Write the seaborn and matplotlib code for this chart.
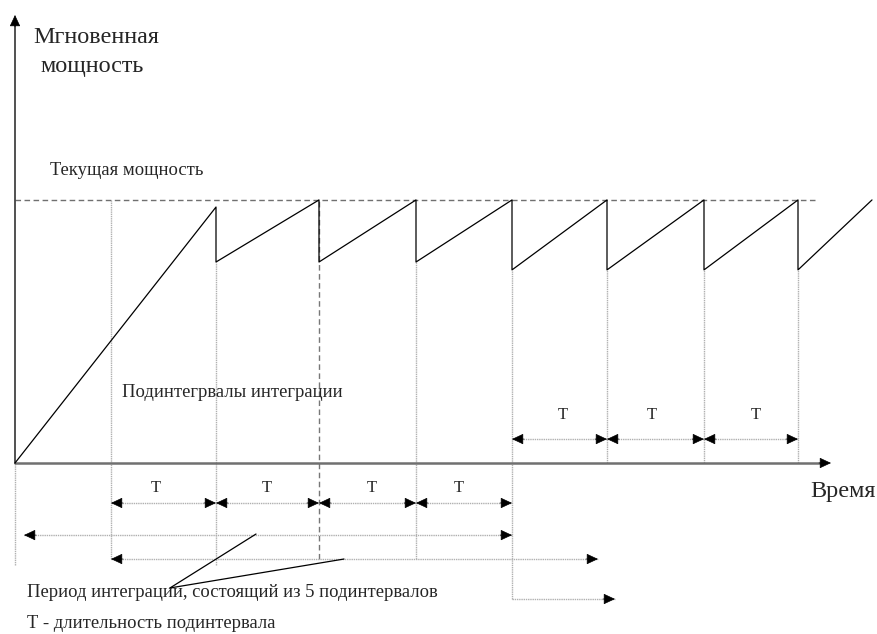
import matplotlib
matplotlib.use("Agg")
import matplotlib.pyplot as plt
import seaborn as sns
import pandas as pd

sns.set_theme(style="white")
plt.rcParams['font.family'] = ['Liberation Serif', 'DejaVu Serif']

# subinterval boundaries (time, arbitrary units)
t_edges = [0.0, 0.96, 2.01, 3.04, 4.01, 4.97, 5.92, 6.89, 7.83]
# instantaneous power sawtooth
saw_t = [0.0, 2.01, 2.01, 3.04, 3.04, 4.01, 4.01, 4.97, 4.97, 5.92, 5.92, 6.89, 6.89, 7.83, 7.83, 8.57]
saw_p = [0.0, 0.973, 0.764, 1.0, 0.764, 1.0, 0.764, 1.0, 0.734, 1.0, 0.734, 1.0, 0.734, 1.0, 0.734, 1.0]
current_level = 1.0
# lower end of each boundary guide line
edge_bottom = [-0.388, -0.365, -0.388, -0.365, -0.365, -0.517, 0.0, 0.0, 0.0]
# top end of each boundary guide line
edge_top = [0.0, 1.0, 0.764, 0.764, 0.764, 0.734, 0.734, 0.734, 0.734]

# subinterval dimension rows
upper_T_idx = [5, 6, 7]      # T spans starting at these edges (upper row)
lower_T_idx = [1, 2, 3, 4]   # T spans starting at these edges (lower row)
upper_row_y = 0.091
lower_row_y = -0.152
upper_T_x = [5.48, 6.37, 7.41]
lower_T_x = [1.41, 2.52, 3.57, 4.44]

# integration periods: start, end, row, arrow on the left
periods = [(0.09, 4.97, -0.274, True), (0.96, 5.83, -0.365, True), (4.97, 6.00, -0.517, False)]

fig = plt.figure(figsize=(8.77, 6.34), dpi=100)
ax = fig.add_axes([0, 0, 1, 1])

grid_c = '#b0b0b0'
axis_c = '#707070'
arrow_style = '-|>,head_length=0.6,head_width=0.28'


def head(x_tip, y, dx=1, dy=0):
    ax.annotate('', xy=(x_tip, y), xytext=(x_tip - dx * 0.12, y - dy * 0.045),
                arrowprops=dict(arrowstyle=arrow_style, color='black', lw=0.5,
                                shrinkA=0, shrinkB=0, mutation_scale=12))


# sawtooth
saw = pd.DataFrame({'t': saw_t, 'p': saw_p})
sns.lineplot(data=saw, x='t', y='p', sort=False, estimator=None,
             color='black', lw=0.9, ax=ax, zorder=3)

ax.set_xlim(-0.15, 8.62)
ax.set_ylim(-0.650, 1.760)
ax.axis('off')

# boundary guide lines
for i, t in enumerate(t_edges):
    if i == 3:
        ax.plot([t, t], [edge_bottom[i], current_level], color='#777777',
                lw=1.0, ls=(0, (4, 2.5)), zorder=1)
    else:
        ax.plot([t, t], [edge_bottom[i], edge_top[i]], color=grid_c,
                lw=1.0, ls=(0, (1, 0.6)), zorder=1)

# current power level
ax.plot([0, 8.01], [current_level, current_level], color='#707070',
        lw=1.0, ls=(0, (4, 2.5)), zorder=1)

# axes with arrows
ax.plot([0, 8.08], [0, 0], color=axis_c, lw=1.8, zorder=2)
head(8.16, 0, 1, 0)
ax.plot([0, 0], [0, 1.67], color='#333333', lw=1.2, zorder=2)
head(0, 1.703, 0, 1)

# T dimension arrows
for idx, row_y in ((upper_T_idx, upper_row_y), (lower_T_idx, lower_row_y)):
    for i in idx:
        a, b = t_edges[i], t_edges[i + 1]
        ax.plot([a, b], [row_y, row_y], color=grid_c, lw=1.0, ls=(0, (1, 0.6)), zorder=1)
        head(a, row_y, -1)
        head(b, row_y, 1)

for x in upper_T_x:
    ax.text(x, 0.167, 'T', ha='center', va='baseline', fontsize=12)
for x in lower_T_x:
    ax.text(x, -0.110, 'T', ha='center', va='baseline', fontsize=12)

# integration period arrows
for a, b, y, left in periods:
    ax.plot([a, b], [y, y], color=grid_c, lw=1.0, ls=(0, (1, 0.6)), zorder=1)
    if left:
        head(a, y, -1)
    head(b, y, 1)

# leader lines
ax.plot([1.55, 2.41], [-0.475, -0.270], color='black', lw=0.9)
ax.plot([1.55, 3.29], [-0.475, -0.365], color='black', lw=0.9)

# texts
big, small = 17.4, 13.4
ax.text(0.18, 1.597, 'Мгновенная', fontsize=big, va='baseline')
ax.text(0.25, 1.487, 'мощность', fontsize=big, va='baseline')
ax.text(0.35, 1.095, 'Текущая мощность', fontsize=small, va='baseline')
ax.text(1.07, 0.251, 'Подинтегрвалы интеграции', fontsize=small, va='baseline')
ax.text(7.95, -0.129, 'Время', fontsize=big, va='baseline')
ax.text(0.12, -0.510, 'Период интеграции, состоящий из 5 подинтервалов', fontsize=small, va='baseline')
ax.text(0.12, -0.628, 'Т - длительность подинтервала', fontsize=small, va='baseline')

fig.savefig('out.png', dpi=100, facecolor='white')
